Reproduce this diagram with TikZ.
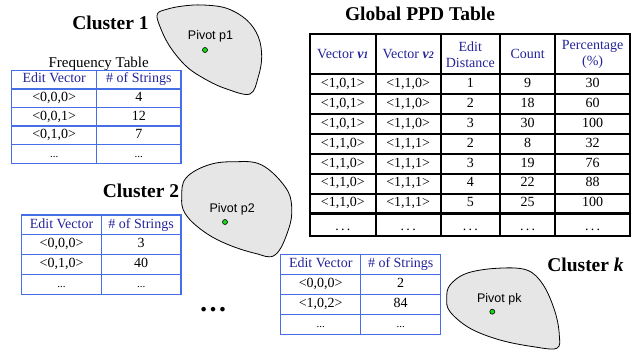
\documentclass[tikz,border=0pt]{standalone}
\usepackage{fontspec}
\setmainfont{Liberation Serif}
\newfontfamily\arialf{Liberation Sans}
\definecolor{tblue}{RGB}{70,110,230}
\definecolor{hblue}{RGB}{35,35,155}
\definecolor{blobgray}{RGB}{230,230,230}
\definecolor{dotgreen}{RGB}{20,220,20}
\begin{document}
\begin{tikzpicture}[x=1pt,y=-1pt,
  every node/.style={inner sep=0pt, outer sep=0pt},
  fs/.style={font=\fontsize{14}{16}\selectfont},
  bcell/.style={draw=tblue, line width=1.3pt, fs, text height=9.5pt, text depth=3pt},
  hdr/.style={text=hblue},
  gcell/.style={draw=black, line width=2pt, fs, text height=9.5pt, text depth=3pt},
  ghdr/.style={draw=black, line width=2pt, fs, text=hblue, align=center},
  title/.style={font=\fontsize{19.5}{22}\selectfont\bfseries},
  blob/.style={draw=black, line width=0.8pt, fill=blobgray},
  pivot/.style={font=\arialf\fontsize{12.5}{14}\selectfont},
  pdot/.style={circle, draw=black, line width=0.6pt, fill=dotgreen, minimum size=5pt},
  sdots/.style={font=\fontsize{11}{13}\selectfont}
]
\useasboundingbox (0,0) rectangle (639,352);

% ---------- Blobs ----------
\draw[blob] plot[smooth cycle, tension=0.6] coordinates {
  (157.3,14) (166.7,9.3) (183,6) (203,5) (226.7,8.3) (246.7,20) (258.3,36.7)
  (261.7,56.7) (258.3,76.7) (250,94) (226.7,89) (206.7,80) (186.7,66.7)
  (170,46.7) (160,26.7)};
\draw[blob] plot[smooth cycle, tension=0.65] coordinates {
  (186,178) (208.3,165) (235,161.7) (261.7,165) (285,186.7) (291.7,206.7)
  (288.3,230) (275,255) (255,253.3) (225,243.3) (201.7,230) (185,213.3) (181.7,196.7)};
\draw[blob] plot[smooth cycle, tension=0.6] coordinates {
  (450,285) (466.7,273.3) (496.7,268.3) (526.7,270) (543.3,285) (555,311.7)
  (559.3,335) (556.7,348.3) (533.3,346.7) (500,340) (470,328.3) (450,311.7) (446.7,298.3)};

\node[pivot] (pv1) at (210.5,35.8) {Pivot p1};
\node[pdot] (pd1) at (205,50) {};
\node[pivot] (pv2) at (232.2,209.2) {Pivot p2};
\node[pdot] (pd2) at (225,222) {};
\node[pivot] (pvk) at (499.3,299.2) {Pivot pk};
\node[pdot] (pdk) at (492.3,311.7) {};

% ---------- Titles ----------
\node[title] (c1) at (110.5,22.5) {Cluster 1};
\node[title] (c2) at (141,191.3) {Cluster 2};
\node[title] (ck) at (585.5,265) {Cluster \textit{k}};
\node[title] (gt) at (420,14.2) {Global PPD Table};
\node[font=\fontsize{15}{17}\selectfont] (ft) at (98.7,63.5) {Frequency Table};
\node[font=\fontsize{28}{30}\selectfont\bfseries, anchor=base] (ell) at (213,312) {…};

% ---------- Table 1 ----------
\node[bcell,hdr,minimum width=85,minimum height=18.6] (t1h1) at (54.2,79.6) {Edit Vector};
\node[bcell,hdr,minimum width=84.3,minimum height=18.6] (t1h2) at (138.85,79.6) {\# of Strings};
\foreach \a/\b [count=\r] in {{<0,0,0>}/4,{<0,0,1>}/12,{<0,1,0>}/7} {
  \node[bcell,minimum width=85,minimum height=18.6] (t1a\r) at (54.2,{79.6+18.6*\r}) {\a};
  \node[bcell,minimum width=84.3,minimum height=18.6] (t1b\r) at (138.85,{79.6+18.6*\r}) {\b};
}
\node[bcell,sdots,minimum width=85,minimum height=18.6] (t1a4) at (54.2,154.0) {...};
\node[bcell,sdots,minimum width=84.3,minimum height=18.6] (t1b4) at (138.85,154.0) {...};

% ---------- Table 2 ----------
\node[bcell,hdr,minimum width=79.6,minimum height=19.8] (t2h1) at (61.5,224.9) {Edit Vector};
\node[bcell,hdr,minimum width=79.7,minimum height=19.8] (t2h2) at (141.15,224.9) {\# of Strings};
\foreach \a/\b [count=\r] in {{<0,0,0>}/3,{<0,1,0>}/40} {
  \node[bcell,minimum width=79.6,minimum height=19.8] (t2a\r) at (61.5,{224.9+19.8*\r}) {\a};
  \node[bcell,minimum width=79.7,minimum height=19.8] (t2b\r) at (141.15,{224.9+19.8*\r}) {\b};
}
\node[bcell,sdots,minimum width=79.6,minimum height=19.8] (t2a3) at (61.5,284.3) {...};
\node[bcell,sdots,minimum width=79.7,minimum height=19.8] (t2b3) at (141.15,284.3) {...};

% ---------- Table k ----------
\node[bcell,hdr,minimum width=80,minimum height=20] (tkh1) at (320.7,264.3) {Edit Vector};
\node[bcell,hdr,minimum width=80,minimum height=20] (tkh2) at (400.7,264.3) {\# of Strings};
\foreach \a/\b [count=\r] in {{<0,0,0>}/2,{<1,0,2>}/84} {
  \node[bcell,minimum width=80,minimum height=20] (tka\r) at (320.7,{264.3+20*\r}) {\a};
  \node[bcell,minimum width=80,minimum height=20] (tkb\r) at (400.7,{264.3+20*\r}) {\b};
}
\node[bcell,sdots,minimum width=80,minimum height=20] (tka3) at (320.7,324.3) {...};
\node[bcell,sdots,minimum width=80,minimum height=20] (tkb3) at (400.7,324.3) {...};

% ---------- Global PPD table ----------
\node[ghdr,minimum width=65.7,minimum height=40] (gh1) at (342.85,54.3)
  {Vector {\bfseries\itshape v\fontsize{10}{12}\selectfont 1}};
\node[ghdr,minimum width=65,minimum height=40] (gh2) at (408.2,54.3)
  {Vector {\bfseries\itshape v\fontsize{10}{12}\selectfont 2}};
\node[ghdr,minimum width=59.3,minimum height=40] (gh3) at (470.35,54.3) {Edit\\Distance};
\node[ghdr,minimum width=55.3,minimum height=40] (gh4) at (527.65,54.3) {Count};
\node[ghdr,minimum width=74.7,minimum height=40] (gh5) at (592.65,54.3) {Percentage\\(\%)};
\foreach \a/\b/\c/\d/\e [count=\r] in {
  {<1,0,1>}/{<1,1,0>}/1/9/30,
  {<1,0,1>}/{<1,1,0>}/2/18/60,
  {<1,0,1>}/{<1,1,0>}/3/30/100,
  {<1,1,0>}/{<1,1,1>}/2/8/32,
  {<1,1,0>}/{<1,1,1>}/3/19/76,
  {<1,1,0>}/{<1,1,1>}/4/22/88,
  {<1,1,0>}/{<1,1,1>}/5/25/100} {
  \node[gcell,minimum width=65.7,minimum height=19.886] (ga\r) at (342.85,{74.3+19.886*(\r-0.5)}) {\a};
  \node[gcell,minimum width=65,minimum height=19.886] (gb\r) at (408.2,{74.3+19.886*(\r-0.5)}) {\b};
  \node[gcell,minimum width=59.3,minimum height=19.886] (gc\r) at (470.35,{74.3+19.886*(\r-0.5)}) {\c};
  \node[gcell,minimum width=55.3,minimum height=19.886] (gd\r) at (527.65,{74.3+19.886*(\r-0.5)}) {\d};
  \node[gcell,minimum width=74.7,minimum height=19.886] (ge\r) at (592.65,{74.3+19.886*(\r-0.5)}) {\e};
}
\node[gcell,minimum width=65.7,minimum height=22.2] (ga8) at (342.85,224.6) {};
\node[gcell,minimum width=65,minimum height=22.2] (gb8) at (408.2,224.6) {};
\node[gcell,minimum width=59.3,minimum height=22.2] (gc8) at (470.35,224.6) {};
\node[gcell,minimum width=55.3,minimum height=22.2] (gd8) at (527.65,224.6) {};
\node[gcell,minimum width=74.7,minimum height=22.2] (ge8) at (592.65,224.6) {};
\foreach \n/\x in {1/342.85,2/408.2,3/470.35,4/527.65,5/592.65} {
  \node[fs,anchor=base] (gdots\n) at (\x,230.5) {.\,.\,.};
}
\end{tikzpicture}
\end{document}
